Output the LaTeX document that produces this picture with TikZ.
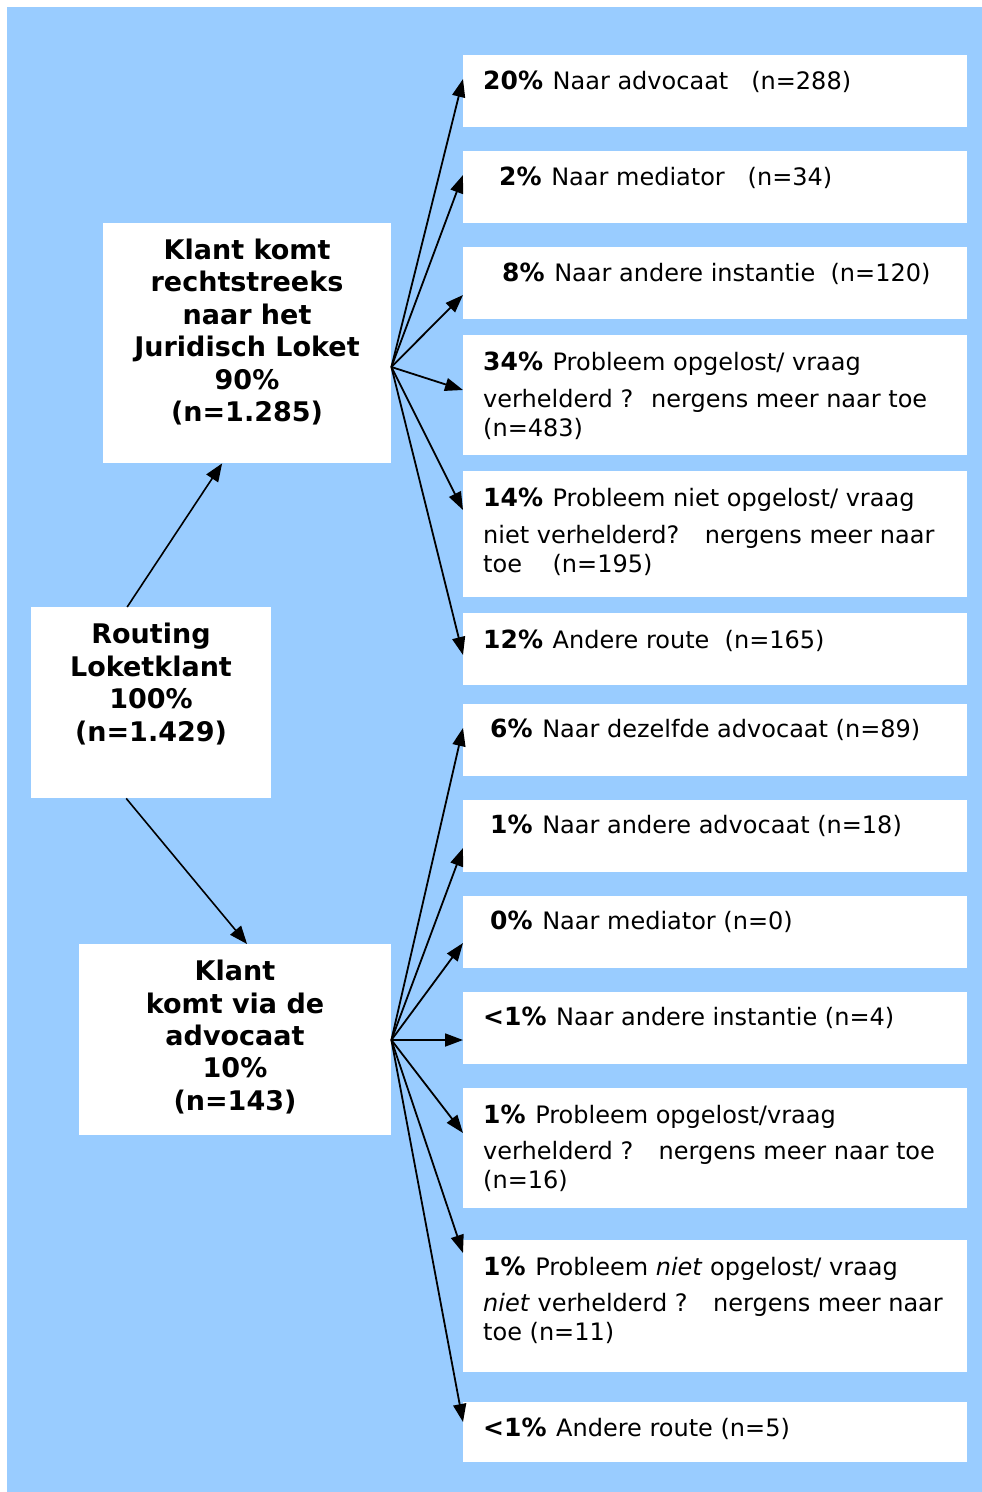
\documentclass[tikz,border=0pt]{standalone}
\usepackage{fontspec}
\setmainfont{DejaVu Sans}
\usetikzlibrary{arrows.meta,calc}
\definecolor{bgblue}{RGB}{153,204,255}
\newcommand\pct[1]{{\fontsize{25}{28}\selectfont\bfseries #1}\hspace{2pt}}
\begin{document}
\begin{tikzpicture}[x=1pt,y=-1pt,
  box/.style={fill=white, draw=none, inner sep=0pt, anchor=north west},
  bt/.style={anchor=base west, inner sep=0pt, font=\fontsize{24}{28}\selectfont},
  lt/.style={align=center, inner sep=0pt, font=\fontsize{27}{32.4}\selectfont\bfseries},
  arr/.style={line width=1.8pt, -{Triangle[length=18pt,width=13pt]}},
  rarr/.style={line width=1.6pt, -{Triangle[length=18pt,width=14pt]}},
]
\useasboundingbox (0,0) rectangle (982,1492);
\fill[white] (0,0) rectangle (982,1492);
\fill[bgblue] (7,7) rectangle (982,1492);

% left boxes
\node[box, minimum width=288pt, minimum height=240pt] (kr) at (103,223) {};
\node[box, minimum width=240pt, minimum height=191pt] (rt) at (31,607) {};
\node[box, minimum width=312pt, minimum height=191pt] (kv) at (79,944) {};

\node[lt] (krt) at (247,332) {Klant komt\\rechtstreeks\\naar het\\Juridisch Loket\\90\%\\(n=1.285)};
\node[lt] (rtt) at (151,684) {Routing\\Loketklant\\100\%\\(n=1.429)};
\node[lt] (kvt) at (235,1037) {Klant\\komt via de\\advocaat\\10\%\\(n=143)};

% right boxes
\node[box, minimum width=504pt, minimum height=72pt] (b1) at (463,55) {};
\node[box, minimum width=504pt, minimum height=72pt] (b2) at (463,151) {};
\node[box, minimum width=504pt, minimum height=72pt] (b3) at (463,247) {};
\node[box, minimum width=504pt, minimum height=120pt] (b4) at (463,335) {};
\node[box, minimum width=504pt, minimum height=126pt] (b5) at (463,471) {};
\node[box, minimum width=504pt, minimum height=72pt] (b6) at (463,613) {};
\node[box, minimum width=504pt, minimum height=72pt] (b7) at (463,704) {};
\node[box, minimum width=504pt, minimum height=72pt] (b8) at (463,800) {};
\node[box, minimum width=504pt, minimum height=72pt] (b9) at (463,896) {};
\node[box, minimum width=504pt, minimum height=72pt] (b10) at (463,992) {};
\node[box, minimum width=504pt, minimum height=120pt] (b11) at (463,1088) {};
\node[box, minimum width=504pt, minimum height=132pt] (b12) at (463,1240) {};
\node[box, minimum width=504pt, minimum height=60pt] (b13) at (463,1402) {};

% texts
\node[bt] (t1) at (483,89) {\pct{20\%} Naar advocaat~~ (n=288)};
\node[bt] (t2) at (499,185) {\pct{2\%} Naar mediator~~ (n=34)};
\node[bt] (t3) at (502,281) {\pct{8\%} Naar andere instantie~ (n=120)};
\node[bt] (t4a) at (483,370) {\pct{34\%} Probleem opgelost/ vraag};
\node[bt] (t4b) at (483,407) {verhelderd ?~ nergens meer naar toe};
\node[bt] (t4c) at (483,436) {(n=483)};
\node[bt] (t5a) at (483,506) {\pct{14\%} Probleem niet opgelost/ vraag};
\node[bt] (t5b) at (483,543) {niet verhelderd?~~ nergens meer naar};
\node[bt] (t5c) at (483,572) {toe~~~ (n=195)};
\node[bt] (t6) at (483,648) {\pct{12\%} Andere route~ (n=165)};
\node[bt] (t7) at (490,737) {\pct{6\%} Naar dezelfde advocaat (n=89)};
\node[bt] (t8) at (490,833) {\pct{1\%} Naar andere advocaat (n=18)};
\node[bt] (t9) at (490,929) {\pct{0\%} Naar mediator (n=0)};
\node[bt] (t10) at (483,1025) {\pct{<1\%} Naar andere instantie (n=4)};
\node[bt] (t11a) at (483,1123) {\pct{1\%} Probleem opgelost/vraag};
\node[bt] (t11b) at (483,1159) {verhelderd ?~~ nergens meer naar toe};
\node[bt] (t11c) at (483,1188) {(n=16)};
\node[bt] (t12a) at (483,1275) {\pct{1\%} Probleem \textit{niet} opgelost/ vraag};
\node[bt] (t12b) at (483,1311) {\textit{niet} verhelderd ?~~ nergens meer naar};
\node[bt] (t12c) at (483,1340) {toe (n=11)};
\node[bt] (t13) at (483,1436) {\pct{<1\%} Andere route (n=5)};

% connectors from routing
\draw[rarr] ($(rt.north west)!0.4!(rt.north east)$) -- ($(kr.south west)!0.413!(kr.south east)$);
\draw[rarr] ($(rt.south west)!0.396!(rt.south east)$) -- ($(kv.north west)!0.538!(kv.north east)$);

% fan from upper box
\coordinate (kro) at ($(kr.north east)+(0,144)$);
\draw[arr] (kro) -- ($(b1.north west)+(0,24)$);
\draw[arr] (kro) -- ($(b2.north west)+(0,24)$);
\draw[arr] (kro) -- ($(b3.north west)+(0,48)$);
\draw[arr] (kro) -- ($(b4.north west)+(0,55)$);
\draw[arr] (kro) -- ($(b5.north west)+(0,39)$);
\draw[arr] (kro) -- ($(b6.north west)+(0,42)$);

% fan from lower box
\coordinate (kvo) at ($(kv.north east)+(0,96)$);
\draw[arr] (kvo) -- ($(b7.north west)+(0,24)$);
\draw[arr] (kvo) -- ($(b8.north west)+(0,48)$);
\draw[arr] (kvo) -- ($(b9.north west)+(0,47)$);
\draw[arr] (kvo) -- ($(b10.north west)+(0,48)$);
\draw[arr] (kvo) -- ($(b11.north west)+(0,45)$);
\draw[arr] (kvo) -- ($(b12.north west)+(0,13)$);
\draw[arr] (kvo) -- ($(b13.north west)+(0,20)$);
\end{tikzpicture}
\end{document}
